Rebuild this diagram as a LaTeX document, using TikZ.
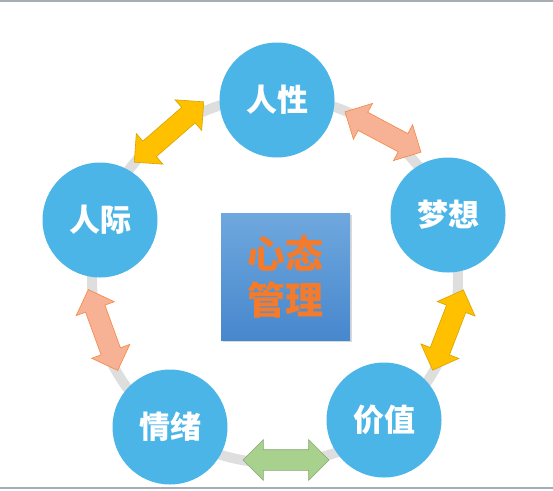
\documentclass[tikz,border=0pt]{standalone}
\usepackage{fontspec}
\newfontfamily\cjk{Noto Sans CJK SC}
\usetikzlibrary{shapes.arrows, shadows}
\definecolor{ballblue}{HTML}{4AB5E6}
\definecolor{ringgray}{HTML}{DEDEDE}
\definecolor{edgegray}{HTML}{A6ADB4}
\definecolor{arrowgold}{HTML}{FFC000}
\definecolor{arrowpeach}{HTML}{F7B195}
\definecolor{arrowgreen}{HTML}{A9D18E}
\definecolor{titleorange}{HTML}{F37B2B}
\definecolor{boxtop}{HTML}{6FA8DE}
\definecolor{boxbottom}{HTML}{4787CD}

\begin{document}
\begin{tikzpicture}[x=1pt, y=-1pt,
    ball/.style={circle, fill=ballblue, minimum size=115pt, inner sep=0pt,
        text=white, font=\cjk\bfseries\fontsize{31}{31}\selectfont},
    dblarrow/.style={double arrow, minimum height=86pt,
        double arrow head extend=10pt, double arrow head indent=0pt, inner sep=0pt},
    gold/.style={dblarrow, fill=arrowgold, draw=arrowgold!85!black, line width=0.6pt},
    peach/.style={dblarrow, fill=arrowpeach, draw=titleorange!90!white, line width=0.6pt},
    leaf/.style={dblarrow, fill=arrowgreen, draw=arrowgreen!80!black, line width=0.6pt}
]
\useasboundingbox (0,0) rectangle (553,490);
\fill[edgegray] (0,0) rectangle (553,1.5);
\fill[edgegray] (0,486.5) rectangle (553,489);

% ring behind the circles
\draw[ringgray, line width=10pt] (275,280) circle[radius=183];

\node[ball] (renxing) at (277,100) {人性};
\node[ball] (mengxiang) at (448,215) {梦想};
\node[ball] (jiazhi) at (384,420) {价值};
\node[ball] (qingxu) at (170,427) {情绪};
\node[ball] (renji) at (100,220) {人际};

% centre box
\node[minimum width=129pt, minimum height=127pt, inner sep=0pt,
    top color=boxtop, bottom color=boxbottom,
    drop shadow={opacity=0.3, shadow xshift=2pt, shadow yshift=-2pt},
    text=titleorange, align=center,
    font=\cjk\bfseries\fontsize{38}{46}\selectfont] (xintai) at (285.5,276.5) {心态\\管理};

% arrows between neighbours
\node[gold, rotate=41, minimum height=92pt] (a1) at (169,132) {\rule{0pt}{20pt}};
\node[peach, rotate=-28] (a2) at (383,132) {\rule{0pt}{20pt}};
\node[gold, rotate=69] (a3) at (448,330) {\rule{0pt}{20pt}};
\node[leaf] (a4) at (286,460) {\rule{0pt}{20pt}};
\node[peach, rotate=-70] (a5) at (103,330) {\rule{0pt}{20pt}};
\end{tikzpicture}
\end{document}
